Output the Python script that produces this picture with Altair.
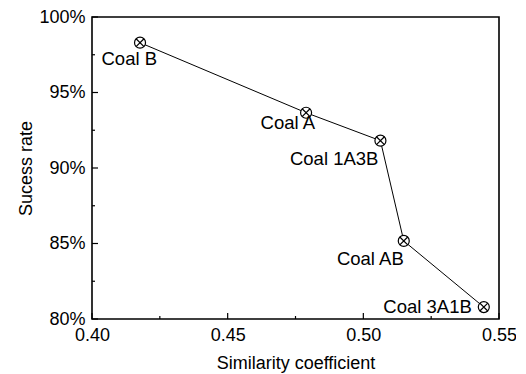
import altair as alt
import pandas as pd

similarity = [0.4177, 0.4789, 0.5063, 0.5149, 0.5444]
success = [98.30, 93.66, 91.81, 85.17, 80.79]
labels = ["Coal B", "Coal A", "Coal 1A3B", "Coal AB", "Coal 3A1B"]

x_major = [0.40, 0.45, 0.50, 0.55]
x_minor = [0.425, 0.475, 0.525]
y_major = [80, 85, 90, 95, 100]
y_minor = [82.5, 87.5, 92.5, 97.5]

df = pd.DataFrame({"sim": similarity, "rate": success, "label": labels})

W, H = 407, 302
FONT = "Liberation Sans"
FS = 18

xs = alt.Scale(domain=[0.40, 0.55], nice=False)
ys = alt.Scale(domain=[80, 100], nice=False)

xaxis = alt.Axis(values=x_major, format=".2f", title="Similarity coefficient",
                 ticks=False, domain=False, grid=False, labelPadding=7,
                 titlePadding=10, labelFlush=False)
yaxis = alt.Axis(values=y_major, labelExpr="datum.value + '%'", title="Sucess rate",
                 ticks=False, domain=False, grid=False, labelPadding=7,
                 titlePadding=3, labelFlush=False)

X = alt.X("sim:Q", scale=xs, axis=xaxis)
Y = alt.Y("rate:Q", scale=ys, axis=yaxis)

base = alt.Chart(df)
line = base.mark_line(color="black", strokeWidth=1).encode(x=X, y=Y)
circ = base.mark_point(shape="circle", filled=True, fill="white", stroke="black",
                       size=121, strokeWidth=1.2, opacity=1).encode(x=X, y=Y)
cross = base.mark_point(shape="M-0.72,-0.72L0.72,0.72M-0.72,0.72L0.72,-0.72", filled=False,
                        stroke="black", size=121, strokeWidth=1.2, opacity=1).encode(x=X, y=Y)

label_style = {
    "Coal B": dict(dx=17, dy=16),
    "Coal A": dict(dx=9, dy=10),
    "Coal 1A3B": dict(dx=-2, dy=18),
    "Coal AB": dict(dx=0, dy=18),
    "Coal 3A1B": dict(dx=-12, dy=0),
}
text_layers = []
for lab, st in label_style.items():
    text_layers.append(
        base.transform_filter(alt.datum.label == lab).mark_text(
            align="right", baseline="middle", font=FONT, fontSize=18.5, color="black", **st
        ).encode(x=X, y=Y, text="label:N")
    )

def xticks(vals, length):
    return alt.Chart(pd.DataFrame({"sim": vals})).mark_rule(color="black", strokeWidth=1.2).encode(
        x=X, y=alt.value(H), y2=alt.value(H - length))

def yticks(vals, length):
    return alt.Chart(pd.DataFrame({"rate": vals})).mark_rule(color="black", strokeWidth=1.2).encode(
        y=Y, x=alt.value(0), x2=alt.value(length))

chart = alt.layer(
    line, xticks(x_major, 6), xticks(x_minor, 3), yticks(y_major, 6), yticks(y_minor, 3),
    circ, cross, *text_layers
).properties(
    width=W, height=H,
    autosize=alt.AutoSizeParams(type="none"),
    padding={"left": 84, "top": 9, "right": 17, "bottom": 56},
).configure_view(
    stroke="black", strokeWidth=1.6
).configure_axis(
    labelFont=FONT, titleFont=FONT, labelFontSize=FS, titleFontSize=FS,
    labelColor="black", titleColor="black", titleFontWeight="normal",
)

chart.save("out.html", embed_options={"renderer": "svg", "actions": False})
